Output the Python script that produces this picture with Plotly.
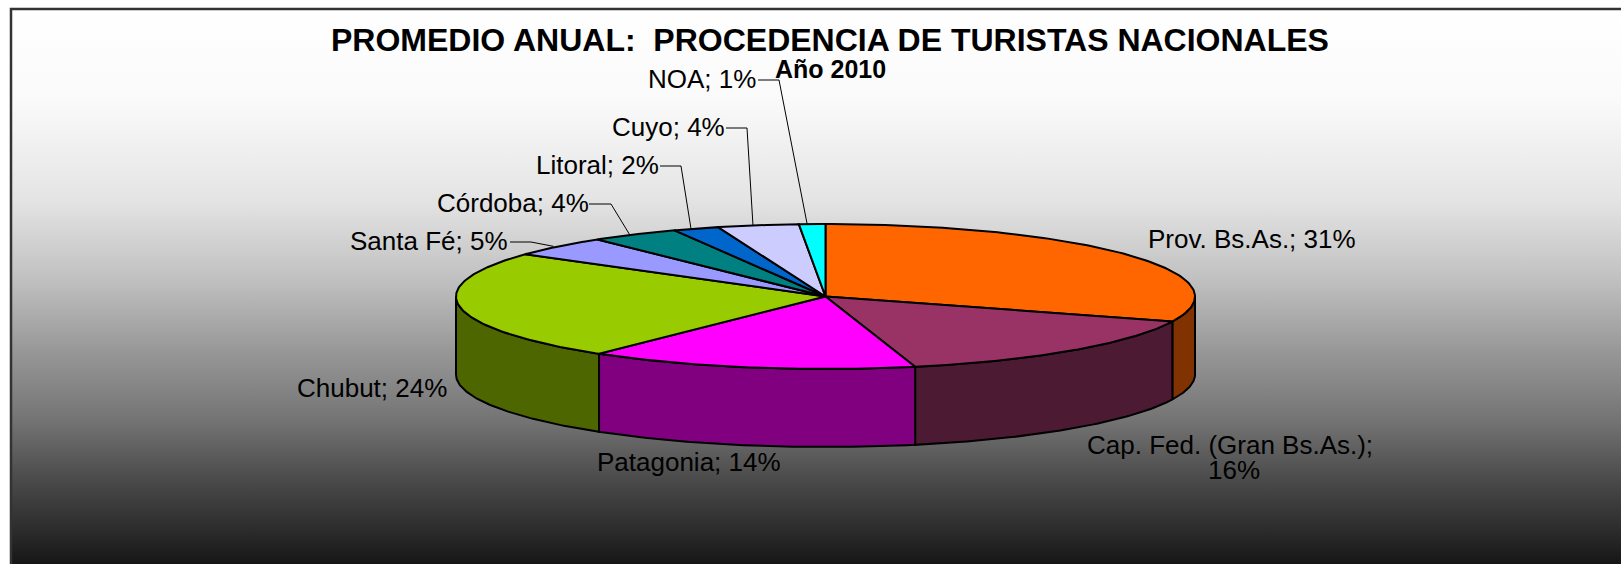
import numpy as np
import plotly.graph_objects as go

categories = ["Prov. Bs.As.", "Cap. Fed. (Gran Bs.As.)", "Patagonia", "Chubut", "Santa Fé",
              "Córdoba", "Litoral", "Cuyo", "NOA"]
shares = [30.6, 15.5, 14.4, 24.4, 4.51, 3.89, 2.0, 3.55, 1.15]
top_colors = ["#FF6600", "#993366", "#FF00FF", "#99CC00", "#9999FF", "#008080", "#0066CC", "#CCCCFF", "#00FFFF"]
side_colors = ["#803300", "#4D1A33", "#800080", "#4D6600", "#4D4D80", "#004040", "#003366", "#666680", "#008080"]

title_main = "PROMEDIO ANUAL:  PROCEDENCIA DE TURISTAS NACIONALES"
title_sub = "Año 2010"

# pie projection, in pixels of the page
CX, CY, RX, RY, DEPTH = 825.5, 296.5, 369.5, 72.5, 78
FONT = "Liberation Sans"
LABEL_SIZE = 26

# label centre (x, y), and for those that have one the elbow of the leader line
label_pos = {
    "Prov. Bs.As.": (1252, 239), "Patagonia": (689, 462), "Chubut": (372, 388),
    "Santa Fé": (429, 241), "Córdoba": (513, 203), "Litoral": (597, 165),
    "Cuyo": (668, 127), "NOA": (702, 79),
}
leaders = {"Santa Fé": (510, 531, 242), "Córdoba": (589, 611, 204), "Litoral": (660, 681, 166),
           "Cuyo": (726, 747, 128), "NOA": (758, 779, 80)}
LEADER_SHIFT = -5

grad_y = [9, 100, 200, 280, 350, 420, 480, 530, 564]
grad_v = [255, 250, 228, 192, 152, 116, 74, 44, 22]


def px(t):
    return CX + RX * np.sin(t)


def py(t):
    return CY - RY * np.cos(t)


fig = go.Figure()

# background gradient (the gradient runs upward on the page)
colorscale = [[(564 - y) / (564 - 9), f"rgb({v},{v},{v})"] for y, v in zip(grad_y[::-1], grad_v[::-1])]
fig.add_trace(go.Scatter(x=[11, 1621, 1621, 11, 11], y=[9, 9, 564, 564, 9], mode="lines",
                         line=dict(width=0), fill="toself", hoverinfo="skip",
                         fillgradient=dict(type="vertical", colorscale=colorscale)))

total = sum(shares)
edges = 2 * np.pi * np.concatenate([[0], np.cumsum(shares)]) / total

# side walls: the part of each slice on the front half of the rim
for i, c in enumerate(side_colors):
    a, b = max(edges[i], np.pi / 2), min(edges[i + 1], 3 * np.pi / 2)
    if a >= b:
        continue
    t = np.linspace(a, b, 80)
    x = np.concatenate([px(t), px(t[::-1]), [px(t[0])]])
    y = np.concatenate([py(t), py(t[::-1]) + DEPTH, [py(t[0])]])
    fig.add_trace(go.Scatter(x=x, y=y, mode="lines", fill="toself", fillcolor=c,
                             line=dict(color="#000000", width=2), hoverinfo="skip"))

# top faces
for i, c in enumerate(top_colors):
    t = np.linspace(edges[i], edges[i + 1], 120)
    x = np.concatenate([[CX], px(t), [CX]])
    y = np.concatenate([[CY], py(t), [CY]])
    fig.add_trace(go.Scatter(x=x, y=y, mode="lines", fill="toself", fillcolor=c,
                             line=dict(color="#000000", width=2),
                             name=categories[i], hoverinfo="name"))

# leader lines
for name, (x0, x1, yl) in leaders.items():
    i = categories.index(name)
    mid = (edges[i] + edges[i + 1]) / 2
    fig.add_trace(go.Scatter(x=[x0, x1, px(mid) + LEADER_SHIFT], y=[yl, yl, py(mid)], mode="lines",
                             line=dict(color="#000000", width=1), hoverinfo="skip"))

annotations = []


def text(x, y, s, size=LABEL_SIZE, bold=False):
    annotations.append(dict(x=x, y=y, xref="x", yref="y", text=s, showarrow=False,
                            xanchor="center", yanchor="middle",
                            font=dict(family=FONT, size=size, color="#000000",
                                      weight=700 if bold else 400)))


text(830, 40, title_main, size=32, bold=True)
text(830, 69, title_sub, size=25, bold=True)
for name, (x, y) in label_pos.items():
    text(x, y, f"{name}; {round(shares[categories.index(name)])}%")
cap = categories[1]
text(1230, 445, f"{cap};")
text(1234, 470, f"{round(shares[1])}%")

fig.update_layout(
    width=1621, height=564, margin=dict(l=0, r=0, t=0, b=0),
    paper_bgcolor="#FFFFFF", plot_bgcolor="#FFFFFF", showlegend=False,
    xaxis=dict(range=[0, 1621], visible=False, fixedrange=True),
    yaxis=dict(range=[564, 0], visible=False, fixedrange=True),
    annotations=annotations,
    shapes=[dict(type="rect", xref="x", yref="y", x0=11, y0=9, x1=1640, y1=580,
                 line=dict(color="#333333", width=2.5), fillcolor="rgba(0,0,0,0)")],
)
fig.write_html("out.html", config={"displayModeBar": False},
               post_script="document.body.style.margin='0';document.body.style.overflow='hidden';")
